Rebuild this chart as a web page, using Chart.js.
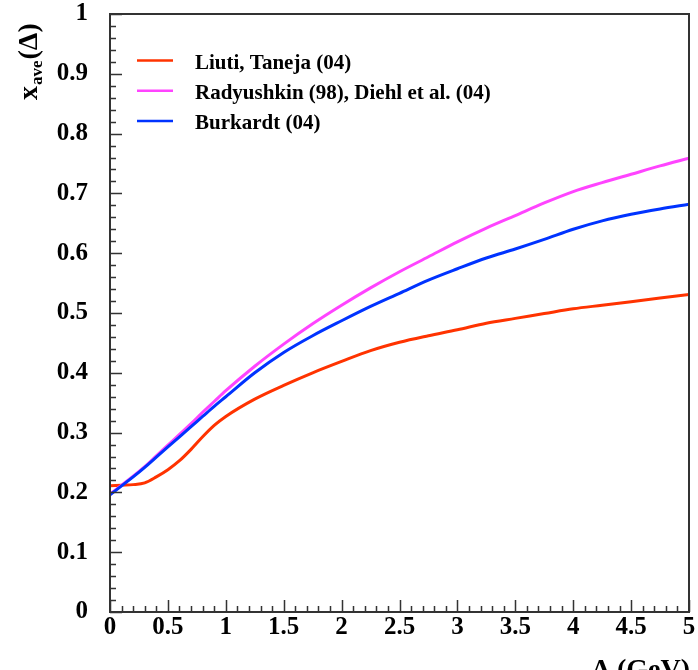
<!DOCTYPE html>
<html>
<head>
<meta charset="utf-8">
<script src="https://cdn.jsdelivr.net/npm/chart.js@4.4.0/dist/chart.umd.min.js"></script>
<style>
  html, body { margin: 0; padding: 0; background: #fff; }
  #wrap { width: 698px; height: 670px; }
</style>
</head>
<body>
<div id="wrap"><canvas id="xaveChart" width="698" height="670"></canvas></div>
<script>
// x_ave(Delta) vs Delta (GeV) for three models

const deltaGeV = [0, 0.1, 0.2, 0.3, 0.4, 0.5, 0.6, 0.7, 0.8, 0.9, 1.0,
  1.25, 1.5, 1.75, 2.0, 2.25, 2.5, 2.75, 3.0, 3.25, 3.5, 3.75, 4.0, 4.25, 4.5, 4.75, 5.0];

const liutiTaneja = [0.211, 0.212, 0.213, 0.216, 0.226, 0.238, 0.253, 0.272, 0.293, 0.312, 0.327,
  0.356, 0.379, 0.400, 0.419, 0.437, 0.451, 0.462, 0.472, 0.483, 0.491, 0.499, 0.507, 0.513, 0.519, 0.525, 0.531];

const radyushkinDiehl = [0.197, 0.212, 0.227, 0.243, 0.261, 0.279, 0.297, 0.315, 0.334, 0.352, 0.370,
  0.411, 0.448, 0.482, 0.513, 0.542, 0.569, 0.594, 0.619, 0.642, 0.663, 0.684, 0.703, 0.718, 0.732, 0.746, 0.759];

const burkardt = [0.196, 0.211, 0.226, 0.242, 0.259, 0.276, 0.293, 0.310, 0.327, 0.344, 0.360,
  0.400, 0.434, 0.462, 0.487, 0.511, 0.533, 0.555, 0.574, 0.592, 0.607, 0.623, 0.640, 0.654, 0.665, 0.674, 0.682];

const seriesLabels = ['Liuti, Taneja (04)', 'Radyushkin (98), Diehl et al. (04)', 'Burkardt (04)'];
const seriesColors = ['#ff3300', '#ff44ff', '#0033ff'];

const xTickValues = [0, 0.5, 1, 1.5, 2, 2.5, 3, 3.5, 4, 4.5, 5];
const xTickLabels = ['0', '0.5', '1', '1.5', '2', '2.5', '3', '3.5', '4', '4.5', '5'];
const yTickValues = [0, 0.1, 0.2, 0.3, 0.4, 0.5, 0.6, 0.7, 0.8, 0.9, 1];
const yTickLabels = ['0', '0.1', '0.2', '0.3', '0.4', '0.5', '0.6', '0.7', '0.8', '0.9', '1'];

const SERIF = '"Liberation Serif", "DejaVu Serif", serif';
const toPoints = arr => deltaGeV.map((x, i) => ({ x: x, y: arr[i] }));

// frame, inward tick marks, legend and axis titles
const rootStyle = {
  id: 'rootStyle',
  afterDraw(chart) {
    const { ctx, chartArea: a, scales: { x, y } } = chart;
    ctx.save();

    ctx.strokeStyle = '#333';
    ctx.lineWidth = 2;
    ctx.strokeRect(a.left, a.top, a.right - a.left, a.bottom - a.top);

    ctx.lineWidth = 1.5;
    ctx.beginPath();
    for (let i = 0; i <= 50; i++) {
      const py = Math.round(y.getPixelForValue(i / 50)) + 0.5;
      const len = i % 5 === 0 ? 12 : 6;
      ctx.moveTo(a.left, py); ctx.lineTo(a.left + len, py);
      const px = Math.round(x.getPixelForValue(i / 10)) + 0.5;
      const lx = i % 5 === 0 ? 12 : 6;
      ctx.moveTo(px, a.bottom); ctx.lineTo(px, a.bottom - lx);
    }
    ctx.stroke();

    // legend
    ctx.font = 'bold 21px ' + SERIF;
    ctx.textAlign = 'left';
    ctx.textBaseline = 'alphabetic';
    chart.data.datasets.forEach((ds, i) => {
      const ly = 60.5 + i * 30.3;
      ctx.strokeStyle = ds.borderColor;
      ctx.lineWidth = 2.5;
      ctx.beginPath();
      ctx.moveTo(137, ly); ctx.lineTo(173, ly);
      ctx.stroke();
      ctx.fillStyle = '#000';
      ctx.fillText(ds.label, 195, ly + 8);
    });

    // y title: x_ave(Δ), rotated
    ctx.save();
    ctx.translate(37, 100);
    ctx.rotate(-Math.PI / 2);
    ctx.fillStyle = '#000';
    ctx.font = 'bold 28px ' + SERIF;
    ctx.fillText('x', 0, 0);
    let off = ctx.measureText('x').width + 1;
    ctx.font = 'bold 17px ' + SERIF;
    ctx.fillText('ave', off, 5);
    off += ctx.measureText('ave').width + 1;
    ctx.font = 'bold 28px ' + SERIF;
    ctx.fillText('(\u0394)', off, 0);
    ctx.restore();

    // x title, cut by the bottom edge
    ctx.font = 'bold 28px ' + SERIF;
    ctx.textAlign = 'right';
    ctx.fillStyle = '#000';
    ctx.fillText('\u0394 (GeV)', 690, 678);

    ctx.restore();
  }
};

const makeDataset = (i, arr, order) => ({
  label: seriesLabels[i],
  data: toPoints(arr),
  borderColor: seriesColors[i],
  borderWidth: 3,
  pointRadius: 0,
  cubicInterpolationMode: 'monotone',
  fill: false,
  order: order
});

new Chart(document.getElementById('xaveChart').getContext('2d'), {
  type: 'line',
  data: {
    datasets: [
      makeDataset(0, liutiTaneja, 2),
      makeDataset(1, radyushkinDiehl, 1),
      makeDataset(2, burkardt, 0)
    ]
  },
  options: {
    responsive: false,
    animation: false,
    devicePixelRatio: 1,
    layout: { padding: { top: 14, right: 9, left: 0, bottom: 0 } },
    plugins: { legend: { display: false }, tooltip: { enabled: false } },
    scales: {
      x: {
        type: 'linear', min: 0, max: 5,
        afterBuildTicks: s => { s.ticks = xTickValues.map(v => ({ value: v })); },
        afterFit: s => { s.height = 58; s.paddingLeft = 0; s.paddingRight = 0; },
        grid: { display: false, drawTicks: false },
        border: { display: false },
        ticks: {
          padding: 1, maxRotation: 0, autoSkip: false, color: '#000',
          font: { family: SERIF, weight: 'bold', size: 25 },
          callback: v => xTickLabels[xTickValues.indexOf(v)]
        }
      },
      y: {
        type: 'linear', min: 0, max: 1,
        afterBuildTicks: s => { s.ticks = yTickValues.map(v => ({ value: v })); },
        afterFit: s => { s.width = 110; s.paddingTop = 0; s.paddingBottom = 0; },
        grid: { display: false, drawTicks: false },
        border: { display: false },
        ticks: {
          padding: 22, autoSkip: false, color: '#000',
          font: { family: SERIF, weight: 'bold', size: 25 },
          callback: v => yTickLabels[yTickValues.indexOf(v)]
        }
      }
    }
  },
  plugins: [rootStyle]
});
</script>
</body>
</html>
